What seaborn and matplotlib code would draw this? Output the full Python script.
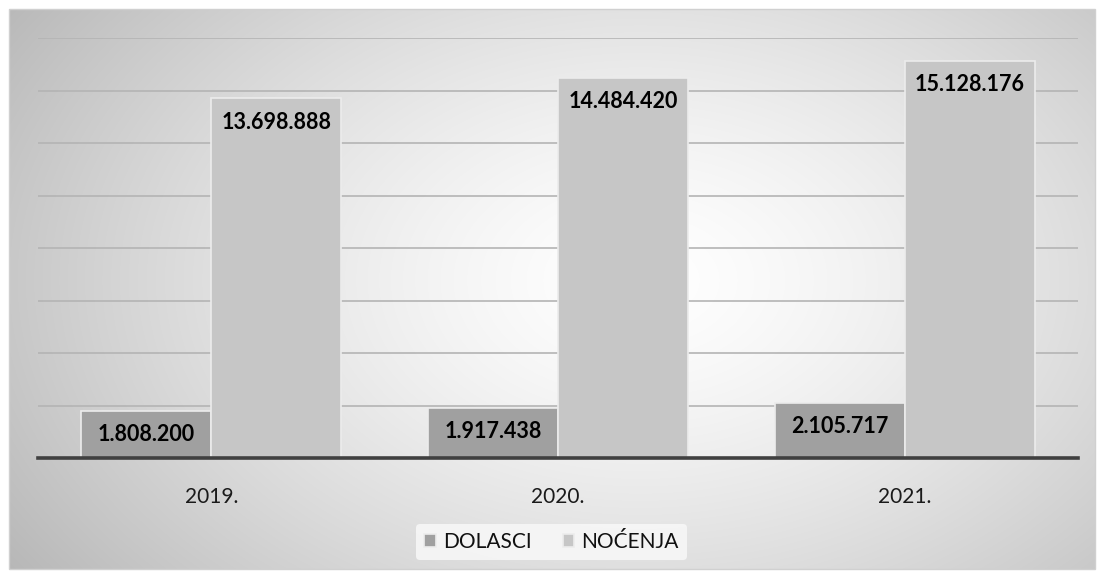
import pandas as pd
import matplotlib.pyplot as plt
import matplotlib.patches as mpatches
import seaborn as sns
import numpy as np

# Podaci
godine = ['2019.', '2020.', '2021.']
dolasci = [1808200, 1917438, 2105717]
nocenja = [13698888, 14484420, 15128176]
serije = ['DOLASCI', 'NOĆENJA']

df = pd.DataFrame({
    'Godina': godine * 2,
    'Serija': [serije[0]] * 3 + [serije[1]] * 3,
    'Vrijednost': dolasci + nocenja,
})

def fmt(v):
    return f"{v:,}".replace(',', '.')

sns.set_style('white')
plt.rcParams['font.family'] = ['Lato', 'DejaVu Sans']

fig = plt.figure(figsize=(11.03, 5.76), dpi=100)

# pozadina s radijalnim gradijentom
bg = fig.add_axes([0, 0, 1, 1], zorder=-2)
bg.set_axis_off()
W, H = 1103, 576
yy, xx = np.mgrid[0:H, 0:W]
r = np.sqrt(((xx - 640) / 640.0) ** 2 + ((yy - 280) / 430.0) ** 2)
val = 1.0 - 0.22 * np.clip(r, 0, 1.2) ** 1.4
img = np.dstack([val, val, val])
img[:9, :] = 1
img[569:, :] = 1
img[:, :9] = 1
img[:, 1095:] = 1
bg.imshow(img, extent=[0, W, H, 0], aspect='auto', interpolation='bilinear')
bg.set_xlim(0, W)
bg.set_ylim(H, 0)
bg.add_patch(mpatches.Rectangle((9, 9), 1086, 560, fill=False,
                                edgecolor='#d0d0d0', linewidth=1))

ax = fig.add_axes([38 / W, 118 / H, 1040 / W, 420 / H])
ax.patch.set_alpha(0)

sns.barplot(
    data=df, x='Godina', y='Vrijednost', hue='Serija',
    palette={'DOLASCI': '#a0a0a0', 'NOĆENJA': '#c6c6c6'},
    width=0.75, edgecolor='#ececec', linewidth=1.2, ax=ax, zorder=3,
)

ax.set_ylim(0, 16000000)
ax.set_yticks(np.arange(0, 16000001, 2000000))
ax.yaxis.grid(True, color='#b4b4b4', linewidth=1.2, zorder=0)
ax.set_axisbelow(True)
ax.set_yticklabels([])
ax.tick_params(axis='both', length=0)
ax.tick_params(axis='x', labelsize=15, pad=21, colors='#1a1a1a')
ax.set_xlabel('')
ax.set_ylabel('')
for s in ['top', 'right', 'left']:
    ax.spines[s].set_visible(False)
ax.spines['bottom'].set_color('#404040')
ax.spines['bottom'].set_linewidth(2.6)
ax.spines['bottom'].set_zorder(5)

for cont in ax.containers:
    for bar in cont:
        h = bar.get_height()
        ax.annotate(fmt(int(round(h))), (bar.get_x() + bar.get_width() / 2, h),
                    xytext=(0, -17), textcoords='offset points',
                    ha='center', va='center', fontsize=15.5, fontweight='bold',
                    color='black', zorder=6)

handles, labels = ax.get_legend_handles_labels()
ax.legend_.remove()
leg = fig.legend(handles, labels, loc='center', bbox_to_anchor=(0.5, 1 - 542 / H),
                 ncol=2, frameon=True, fontsize=15, handlelength=0.55,
                 handleheight=0.55, handletextpad=0.35, columnspacing=1.5,
                 borderpad=0.4)
leg.get_frame().set_facecolor('#f8f8f8')
leg.get_frame().set_edgecolor('none')
leg.get_frame().set_alpha(0.85)
for t in leg.get_texts():
    t.set_color('#111111')

plt.savefig('out.png', dpi=100)
